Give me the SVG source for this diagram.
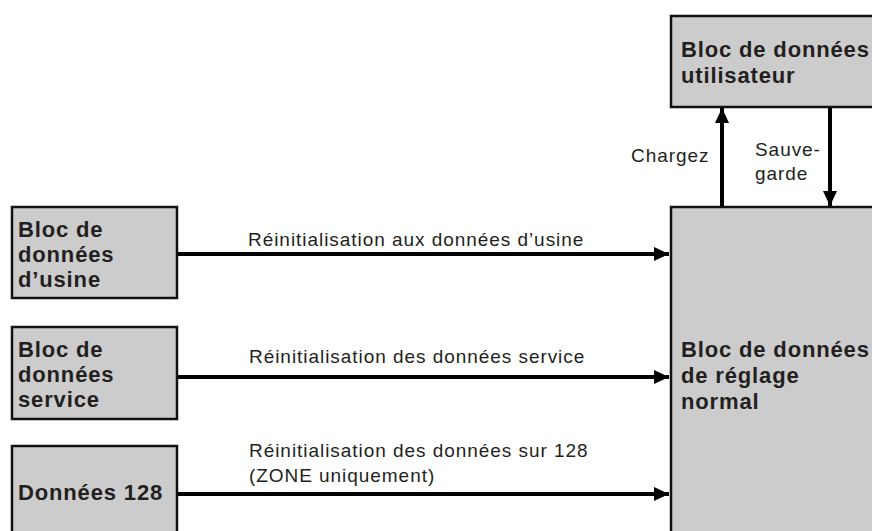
<svg xmlns="http://www.w3.org/2000/svg" width="872" height="531" viewBox="0 0 872 531">
<style>
.box{fill:#cccccc;stroke:#111;stroke-width:2.5}
.bt{font-family:"Liberation Sans",Arial,sans-serif;font-weight:bold;font-size:22px;letter-spacing:0.85px;fill:#231f20}
.lt{font-family:"Liberation Sans",Arial,sans-serif;font-size:19px;letter-spacing:0.95px;fill:#231f20}
.con{stroke:#000;stroke-width:4;fill:none;marker-end:url(#ah)}
</style>
<defs>
<marker id="ah" markerUnits="userSpaceOnUse" markerWidth="16" markerHeight="14" refX="15" refY="7" orient="auto">
<path d="M0,0 L15,7 L0,14 Z" fill="#000"/>
</marker>
</defs>
<rect width="872" height="531" fill="#fff"/>
<g id="connectors">
<line class="con" x1="177" y1="254" x2="669" y2="254"/>
<line class="con" x1="177" y1="377" x2="669" y2="377"/>
<line class="con" x1="177" y1="494" x2="669" y2="494"/>
<line class="con" x1="722" y1="207" x2="722" y2="108"/>
<line class="con" x1="830" y1="107" x2="830" y2="206"/>
<text class="lt" x="248" y="246">Réinitialisation aux données d’usine</text>
<text class="lt" x="249" y="363">Réinitialisation des données service</text>
<text class="lt" x="249" y="457">Réinitialisation des données sur 128</text>
<text class="lt" x="249" y="482">(ZONE uniquement)</text>
<text class="lt" x="631" y="162">Chargez</text>
<text class="lt" x="755" y="156">Sauve-</text>
<text class="lt" x="755" y="180">garde</text>
</g>
<g id="usine">
<rect class="box" x="12" y="207" width="165" height="91"/>
<text class="bt" x="18" y="237">Bloc de</text>
<text class="bt" x="18" y="262">données</text>
<text class="bt" x="18" y="287">d’usine</text>
</g>
<g id="service">
<rect class="box" x="12" y="327" width="165" height="92"/>
<text class="bt" x="18" y="357">Bloc de</text>
<text class="bt" x="18" y="382">données</text>
<text class="bt" x="18" y="407">service</text>
</g>
<g id="d128">
<rect class="box" x="12" y="446" width="165" height="100"/>
<text class="bt" x="18" y="500">Données 128</text>
</g>
<g id="utilisateur">
<rect class="box" x="671" y="16" width="210" height="91"/>
<text class="bt" x="681" y="57">Bloc de données</text>
<text class="bt" x="681" y="83">utilisateur</text>
</g>
<g id="normal">
<rect class="box" x="671" y="207" width="210" height="340"/>
<text class="bt" x="681" y="357">Bloc de données</text>
<text class="bt" x="681" y="383">de réglage</text>
<text class="bt" x="681" y="409">normal</text>
</g>
</svg>
